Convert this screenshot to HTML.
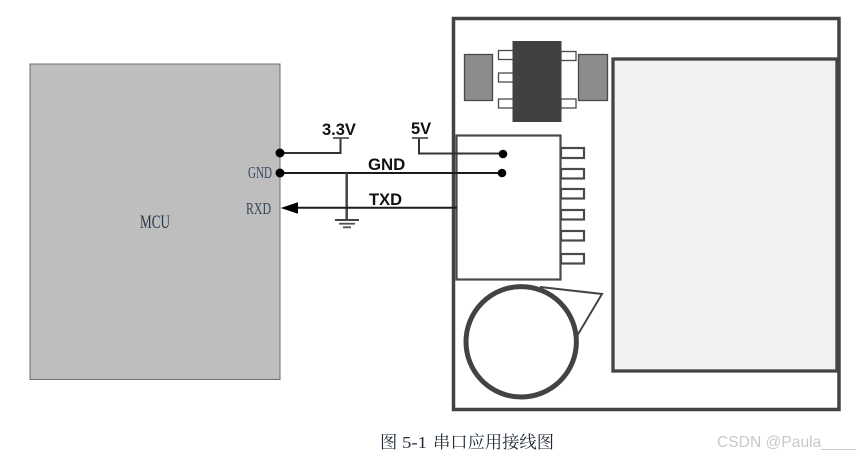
<!DOCTYPE html>
<html>
<head>
<meta charset="utf-8">
<style>
html,body{margin:0;padding:0;background:#fff;}
body{width:860px;height:456px;overflow:hidden;}
svg{display:block;}
text{font-family:"Liberation Sans",sans-serif;}
.s{font-family:"Liberation Serif","Noto Serif CJK SC",serif;}
</style>
</head>
<body>
<svg width="860" height="456" viewBox="0 0 860 456" xmlns="http://www.w3.org/2000/svg">
<!-- MCU -->
<rect x="30" y="64" width="250" height="315.5" fill="#bebebe" stroke="#6e6e6e" stroke-width="1"/>
<text class="s" x="140" y="228" font-size="19" fill="#26384a" textLength="30" lengthAdjust="spacingAndGlyphs">MCU</text>
<text class="s" x="248" y="178" font-size="17" fill="#34465a" textLength="24" lengthAdjust="spacingAndGlyphs">GND</text>
<text class="s" x="246" y="214" font-size="17" fill="#34465a" textLength="25" lengthAdjust="spacingAndGlyphs">RXD</text>

<!-- Module outer -->
<rect x="453.500" y="18.500" width="385.500" height="391" fill="#fff" stroke="#434343" stroke-width="3.500"/>

<!-- Display panel -->
<rect x="613" y="59" width="224" height="312" fill="#f1f1f1" stroke="#444" stroke-width="3.300"/>

<!-- Regulator leads -->
<g fill="#fff" stroke="#4a4a4a" stroke-width="1.300">
<rect x="498.500" y="50.500" width="15" height="9"/>
<rect x="498.500" y="73" width="15" height="9"/>
<rect x="498.500" y="99" width="15" height="9"/>
<rect x="561" y="51.500" width="15" height="9"/>
<rect x="561" y="99" width="15" height="9"/>
</g>
<rect x="512.500" y="41" width="49" height="81" fill="#414141"/>
<rect x="464.500" y="54.500" width="28" height="46" fill="#8c8c8c" stroke="#484848" stroke-width="1.300"/>
<rect x="578.500" y="54.500" width="29" height="46" fill="#8c8c8c" stroke="#484848" stroke-width="1.300"/>

<!-- Connector -->
<rect x="456.500" y="135.500" width="104" height="144" fill="#fff" stroke="#4a4a4a" stroke-width="2.200"/>
<g fill="#fff" stroke="#4a4a4a" stroke-width="2.200">
<rect x="561" y="148" width="23" height="10"/>
<rect x="561" y="169" width="23" height="9.500"/>
<rect x="561" y="189" width="23" height="9.500"/>
<rect x="561" y="210" width="23" height="9.500"/>
<rect x="561" y="231" width="23" height="9.500"/>
<rect x="561" y="254" width="23" height="9.500"/>
</g>

<!-- Battery/circle -->
<path d="M540 287 L602 294 L577 336" fill="none" stroke="#444" stroke-width="2"/>
<circle cx="521.200" cy="341.800" r="55.200" fill="#fff" stroke="#434343" stroke-width="5"/>

<!-- Wires -->
<g fill="none" stroke-linecap="butt">
<path d="M280 153 H340.500 V138" stroke="#333" stroke-width="2"/>
<path d="M333 138 H349" stroke="#555" stroke-width="1.800"/>
<path d="M419 138 V153.500 H503" stroke="#333" stroke-width="2"/>
<path d="M412 138 H428" stroke="#555" stroke-width="1.800"/>
<path d="M280 173 H503" stroke="#1c1c1c" stroke-width="2"/>
<path d="M346.700 173 V220" stroke="#444" stroke-width="2.500"/>
<path d="M335 220 H359" stroke="#444" stroke-width="2"/>
<path d="M339 223.700 H355" stroke="#555" stroke-width="1.800"/>
<path d="M343 227.300 H351" stroke="#555" stroke-width="1.800"/>
<path d="M297 207.800 H457" stroke="#1c1c1c" stroke-width="2"/>
</g>
<path d="M280.700 208 L298 202.300 L298 213.700 Z" fill="#000"/>
<circle cx="280" cy="153" r="4.500" fill="#000"/>
<circle cx="280" cy="173" r="4.500" fill="#000"/>
<circle cx="503" cy="154" r="4.300" fill="#000"/>
<circle cx="502" cy="173" r="4.300" fill="#000"/>

<!-- Labels -->
<g font-size="16.500" font-weight="bold" fill="#111">
<text x="322" y="135">3.3V</text>
<text x="411" y="134">5V</text>
<text x="368" y="170" font-size="16.800">GND</text>
<text x="369" y="205" font-size="16.500">TXD</text>
</g>

<!-- Caption -->
<text class="s" y="448" font-size="17.300" fill="#1f2a36"><tspan x="380">图</tspan><tspan x="402" textLength="25" lengthAdjust="spacingAndGlyphs">5-1</tspan><tspan x="433">串口应用接线图</tspan></text>
<text x="717" y="447" font-size="16" fill="#c8c8c8" textLength="139" lengthAdjust="spacingAndGlyphs">CSDN @Paula____</text>
</svg>
</body>
</html>
